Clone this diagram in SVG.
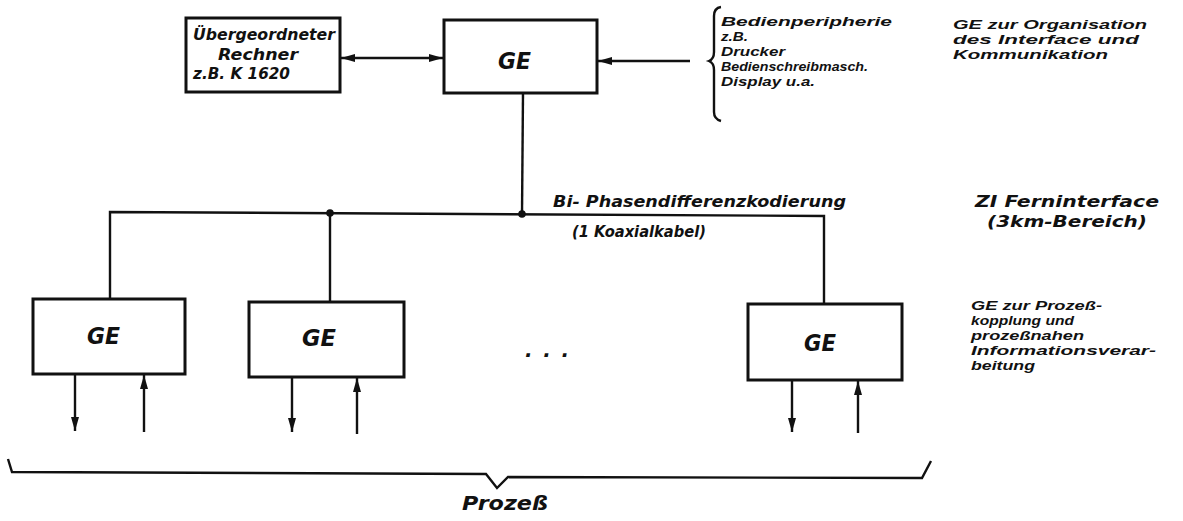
<svg xmlns="http://www.w3.org/2000/svg" width="1183" height="521" viewBox="0 0 1183 521">
<defs>
<style>
.t{font-family:"DejaVu Sans","Liberation Sans",sans-serif;font-style:italic;font-weight:bold;fill:#111;}
.s{font-size:15px;}
.n{font-family:"Liberation Sans","DejaVu Sans",sans-serif;font-style:italic;font-weight:bold;fill:#111;font-size:13px;}
.g{font-size:23px;}
.box{fill:#fff;stroke:#111;stroke-width:3;}
.ln{fill:none;stroke:#111;stroke-width:2.4;}
</style>
<marker id="ah" viewBox="0 0 14 8" refX="14" refY="4" markerWidth="14" markerHeight="8" markerUnits="userSpaceOnUse" orient="auto-start-reverse">
<path d="M0,0 L14,4 L0,8 Z" fill="#111"/>
</marker>
</defs>
<rect width="1183" height="521" fill="#fff"/>

<g id="connectors">
<line class="ln" x1="341" y1="58" x2="443" y2="58" marker-start="url(#ah)" marker-end="url(#ah)"/>
<line class="ln" x1="690" y1="61" x2="598" y2="61" marker-end="url(#ah)"/>
<line class="ln" x1="523" y1="93" x2="522" y2="214"/>
<polyline class="ln" points="110,299 110,212 824,216 824,304"/>
<line class="ln" x1="330" y1="213" x2="330" y2="302"/>
<circle cx="330" cy="213" r="3.8" fill="#111"/>
<circle cx="522" cy="214" r="3.8" fill="#111"/>
<line class="ln" x1="75" y1="374" x2="75" y2="431" marker-end="url(#ah)"/>
<line class="ln" x1="144" y1="432" x2="144" y2="375" marker-end="url(#ah)"/>
<line class="ln" x1="292" y1="377" x2="292" y2="432" marker-end="url(#ah)"/>
<line class="ln" x1="357" y1="434" x2="357" y2="378" marker-end="url(#ah)"/>
<line class="ln" x1="792" y1="380" x2="792" y2="432" marker-end="url(#ah)"/>
<line class="ln" x1="858" y1="433" x2="858" y2="381" marker-end="url(#ah)"/>
</g>

<g id="host">
<rect class="box" x="186" y="18" width="154" height="74"/>
<text class="t s" x="193" y="40" textLength="142" lengthAdjust="spacingAndGlyphs">Übergeordneter</text>
<text class="t s" x="218" y="60" textLength="80" lengthAdjust="spacingAndGlyphs">Rechner</text>
<text class="t s" x="193" y="79" textLength="97" lengthAdjust="spacingAndGlyphs">z.B.  K 1620</text>
</g>

<g id="ge-top">
<rect class="box" x="444" y="20" width="153" height="73"/>
<text class="t g" x="498" y="69" textLength="33" lengthAdjust="spacingAndGlyphs">GE</text>
</g>

<g id="peripherals">
<path class="ln" d="M721,7 Q714,8 714,16 L714,52 Q714,59 709,61 Q714,63 714,70 L714,112 Q714,119 721,121" stroke-width="2"/>
<text class="n" x="721" y="26" textLength="171" lengthAdjust="spacingAndGlyphs">Bedienperipherie</text>
<text class="n" x="721" y="41" textLength="27" lengthAdjust="spacingAndGlyphs">z.B.</text>
<text class="n" x="721" y="56" textLength="64" lengthAdjust="spacingAndGlyphs">Drucker</text>
<text class="n" x="721" y="71" textLength="147" lengthAdjust="spacingAndGlyphs">Bedienschreibmasch.</text>
<text class="n" x="721" y="86" textLength="94" lengthAdjust="spacingAndGlyphs">Display u.a.</text>
</g>

<g id="note-top">
<text class="n" x="953" y="29" textLength="194" lengthAdjust="spacingAndGlyphs">GE zur Organisation</text>
<text class="n" x="953" y="44" textLength="186" lengthAdjust="spacingAndGlyphs">des Interface und</text>
<text class="n" x="953" y="59" textLength="155" lengthAdjust="spacingAndGlyphs">Kommunikation</text>
</g>

<g id="bus-label">
<text class="t s" x="553" y="207" textLength="293" lengthAdjust="spacingAndGlyphs">Bi- Phasendifferenzkodierung</text>
<text class="t s" x="572" y="237" textLength="134" lengthAdjust="spacingAndGlyphs">(1 Koaxialkabel)</text>
</g>

<g id="note-mid">
<text class="t s" x="975" y="207" textLength="184" lengthAdjust="spacingAndGlyphs">ZI  Ferninterface</text>
<text class="t s" x="987" y="227" textLength="160" lengthAdjust="spacingAndGlyphs">(3km-Bereich)</text>
</g>

<g id="ge-1">
<rect class="box" x="33" y="299" width="152" height="75"/>
<text class="t g" x="87" y="344" textLength="33" lengthAdjust="spacingAndGlyphs">GE</text>
</g>
<g id="ge-2">
<rect class="box" x="249" y="302" width="155" height="75"/>
<text class="t g" x="302" y="346" textLength="34" lengthAdjust="spacingAndGlyphs">GE</text>
</g>
<g id="ellipsis">
<text class="t" x="525" y="357" font-size="20" textLength="44" lengthAdjust="spacing">...</text>
</g>
<g id="ge-n">
<rect class="box" x="748" y="304" width="154" height="76"/>
<text class="t g" x="804" y="351" textLength="32" lengthAdjust="spacingAndGlyphs">GE</text>
</g>

<g id="note-bottom">
<text class="n" x="971" y="310" textLength="131" lengthAdjust="spacingAndGlyphs">GE zur Prozeß-</text>
<text class="n" x="971" y="325" textLength="103" lengthAdjust="spacingAndGlyphs">kopplung und</text>
<text class="n" x="971" y="340" textLength="113" lengthAdjust="spacingAndGlyphs">prozeßnahen</text>
<text class="n" x="971" y="355" textLength="185" lengthAdjust="spacingAndGlyphs">Informationsverar-</text>
<text class="n" x="971" y="370" textLength="64" lengthAdjust="spacingAndGlyphs">beitung</text>
</g>

<g id="process">
<path class="ln" d="M8,459 L12,472 L486,474 L497,488 L508,477 L922,478 L931,461"/>
<text class="t" x="462" y="510" font-size="20" textLength="86" lengthAdjust="spacingAndGlyphs">Prozeß</text>
</g>
</svg>
